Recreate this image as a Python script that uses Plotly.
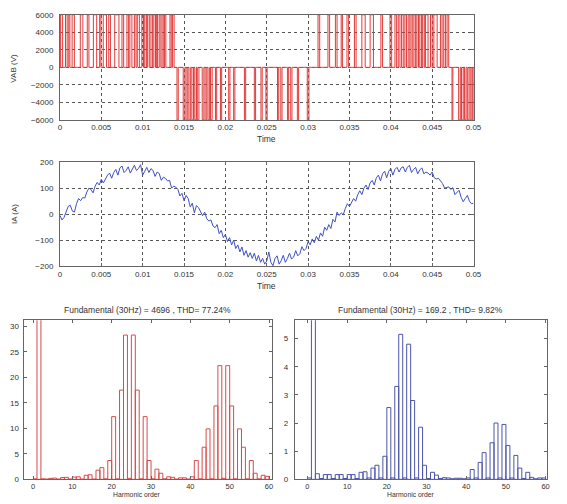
import plotly.graph_objects as go

# ---------------- data ----------------
# line voltage VAB: pulses (start ms, end ms) and level (V)
pulse_start_ms = [0.08, 0.67, 1.07, 1.47, 2.46, 3.30, 4.04, 4.80, 5.23, 5.90, 6.62, 7.50, 8.10, 8.45, 9.00, 9.35,
                  9.90, 10.25, 10.60, 11.00, 11.35, 11.65, 12.00, 12.35, 12.65, 13.30, 13.60,
                  14.15, 14.90, 15.25, 15.60, 15.95, 16.30, 16.60, 17.20, 17.55, 17.90, 18.20, 18.80, 19.40,
                  20.40, 21.00, 22.30, 23.50, 24.30, 24.90, 26.30, 26.70, 27.50, 27.90, 28.70, 29.90,
                  31.20, 32.40, 33.30, 34.00, 34.70, 35.60, 36.50, 37.50, 38.80, 39.90, 40.50, 40.90, 41.30,
                  41.70, 42.10, 42.45, 42.80, 43.15, 43.50, 43.85, 44.20, 44.80, 45.20, 46.00, 46.40, 46.80,
                  47.40, 48.20, 48.55, 48.90, 49.25, 49.60, 49.90]
pulse_end_ms = [0.32, 0.87, 1.20, 1.74, 2.77, 3.50, 4.44, 4.95, 5.63, 6.10, 7.13, 7.70, 8.30, 8.70, 9.20, 9.60,
                10.10, 10.45, 10.80, 11.20, 11.55, 11.80, 12.20, 12.55, 12.80, 13.45, 13.80,
                14.30, 15.10, 15.45, 15.80, 16.15, 16.50, 16.80, 17.40, 17.75, 18.10, 18.40, 18.95, 19.55,
                20.55, 21.15, 22.45, 23.65, 24.45, 25.05, 26.45, 26.85, 27.65, 28.05, 28.85, 30.10,
                31.40, 32.60, 33.50, 34.15, 34.90, 35.80, 36.90, 37.90, 39.00, 40.10, 40.70, 41.10, 41.50,
                41.90, 42.30, 42.65, 43.00, 43.35, 43.70, 44.05, 44.50, 45.00, 45.60, 46.20, 46.60, 47.00,
                47.50, 48.40, 48.75, 49.10, 49.45, 49.80, 50.00]
pulse_level = [6000] * 27 + [-6000] * 25 + [6000] * 26 + [-6000] * 7

# phase current IA, sampled every 0.25 ms
ia_dt = 0.00025
ia_values = [-5, -22, -12, 10, 30, 34, 12, 8, 40, 60, 52, 64, 62, 85, 100, 95, 82, 108, 122, 112,
             134, 120, 138, 150, 158, 138, 160, 172, 150, 178, 185, 160, 168, 182, 158, 175, 188, 168, 176, 190,
             150, 165, 180, 160, 175, 168, 145, 162, 156, 130, 142, 138, 128, 130, 100, 108, 104, 96, 70, 80,
             52, 72, 60, 28, 42, 5, 33, 25, 8, -6, 8, -18, -26, -22, -45, -52, -40, -75, -62, -90,
             -78, -105, -90, -118, -100, -132, -118, -145, -126, -158, -140, -165, -148, -170, -150, -180, -158, -185, -170, -192,
             -180, -145, -185, -198, -170, -160, -192, -178, -158, -185, -170, -150, -172, -165, -140, -160, -152, -125, -140, -132,
             -105, -118, -95, -110, -85, -100, -72, -85, -50, -62, -40, -55, -20, -30, 8, -5, 5, -2, 22, 40,
             30, 45, 60, 50, 75, 90, 75, 100, 112, 95, 120, 130, 112, 140, 150, 128, 155, 165, 140, 165,
             175, 150, 172, 180, 162, 178, 182, 162, 180, 188, 160, 172, 180, 155, 170, 178, 155, 162, 158, 150,
             162, 140, 135, 138, 130, 118, 100, 102, 105, 95, 102, 75, 85, 92, 65, 48, 60, 72, 50, 40, 42]

# harmonic spectra (% of fundamental), orders 0..59
harm_order = list(range(60))
vab_harm = [0.1, 100, 0.1, 0.05, 0.2, 0.25, 0.05, 0.35, 0.4, 0.05,
            0.45, 0.5, 0.05, 0.8, 0.9, 0.05, 1.8, 2.3, 0.1, 3.7,
            12.3, 0.1, 17.5, 28.3, 0.2, 28.3, 17.5, 0.1, 12.3, 3.7,
            0.1, 2.0, 1.2, 0.1, 0.5, 0.4, 0.05, 0.3, 0.3, 0.05,
            0.5, 3.7, 0.1, 6.3, 9.9, 0.1, 14.4, 22.3, 0.2, 22.3,
            14.4, 0.1, 9.9, 6.3, 0.1, 3.7, 1.2, 0.1, 0.8, 0.6]
ia_harm = [0.05, 100, 0.2, 0.03, 0.17, 0.17, 0.03, 0.17, 0.17, 0.03,
           0.17, 0.17, 0.03, 0.25, 0.27, 0.05, 0.4, 0.5, 0.05, 0.82,
           2.55, 0.05, 3.3, 5.15, 0.05, 4.8, 2.8, 0.05, 1.85, 0.5,
           0.03, 0.25, 0.15, 0.03, 0.06, 0.05, 0.02, 0.04, 0.04, 0.02,
           0.05, 0.35, 0.05, 0.6, 0.95, 0.05, 1.3, 2.0, 0.05, 1.95,
           1.2, 0.05, 0.85, 0.4, 0.03, 0.25, 0.07, 0.02, 0.05, 0.05]

time_ticks = [0, 0.005, 0.01, 0.015, 0.02, 0.025, 0.03, 0.035, 0.04, 0.045, 0.05]
time_tick_text = ["0", "0.005", "0.01", "0.015", "0.02", "0.025", "0.03", "0.035", "0.04", "0.045", "0.05"]
vab_ticks = [-6000, -4000, -2000, 0, 2000, 4000, 6000]
ia_ticks = [-200, -100, 0, 100, 200]
harm_x_ticks = [0, 10, 20, 30, 40, 50, 60]
vab_harm_yticks = [0, 5, 10, 15, 20, 25, 30]
ia_harm_yticks = [0, 1, 2, 3, 4, 5]

vab_title = "Fundamental (30Hz) = 4696 , THD= 77.24%"
ia_title = "Fundamental (30Hz) = 169.2 , THD= 9.82%"

# ---------------- build ----------------
W, H = 567, 504
FONT = "Liberation Sans, Arial, sans-serif"
TXT = "#333333"
AX = "#666666"

vx, vy = [0.0], [0]
for s, e, lv in zip(pulse_start_ms, pulse_end_ms, pulse_level):
    vx += [s / 1000.0, e / 1000.0]
    vy += [lv, 0]
vx.append(0.05)
vy.append(0)

fig = go.Figure()
fig.add_trace(go.Scatter(x=vx, y=vy, mode="lines", line=dict(color="#e23b3b", width=1, shape="hv"),
                         xaxis="x", yaxis="y", showlegend=False, hoverinfo="skip"))
fig.add_trace(go.Scatter(x0=0, dx=ia_dt, y=ia_values, mode="lines", line=dict(color="#3f4fc4", width=1),
                         xaxis="x2", yaxis="y2", showlegend=False, hoverinfo="skip"))
fig.add_trace(go.Bar(x=harm_order, y=vab_harm, offset=0, width=1,
                     marker=dict(color="rgba(255,255,255,0)", line=dict(color="#d94a4a", width=1)),
                     xaxis="x3", yaxis="y3", showlegend=False, hoverinfo="skip"))
fig.add_trace(go.Bar(x=harm_order, y=ia_harm, offset=0, width=1,
                     marker=dict(color="rgba(255,255,255,0)", line=dict(color="#4d55aa", width=1)),
                     xaxis="x4", yaxis="y4", showlegend=False, hoverinfo="skip"))


def px_x(a, b):
    return [a / W, b / W]


def px_y(top, bot):
    return [1 - bot / H, 1 - top / H]


common = dict(showline=True, linecolor=AX, linewidth=1, mirror="allticks", ticks="inside",
              ticklen=3, tickcolor=AX, tickfont=dict(family=FONT, size=8, color=TXT),
              zeroline=False, fixedrange=True)
grid = dict(showgrid=True, gridcolor="#555555", griddash="dot", gridwidth=1)
small = dict(family=FONT, size=7.5, color=TXT)

fig.update_layout(
    width=W, height=H, margin=dict(l=0, r=0, t=0, b=0),
    paper_bgcolor="white", plot_bgcolor="white", bargap=0, hovermode=False,
    font=dict(family=FONT, size=8, color=TXT),
    xaxis=dict(domain=px_x(59, 480), range=[0, 0.05], tickvals=time_ticks, ticktext=time_tick_text,
               anchor="y", layer="below traces", **common, **grid),
    yaxis=dict(domain=px_y(11, 118), range=[-6000, 6000], tickvals=vab_ticks, anchor="x",
               ticklabelstandoff=4, layer="below traces", **common, **grid),
    xaxis2=dict(domain=px_x(59, 480), range=[0, 0.05], tickvals=time_ticks, ticktext=time_tick_text,
                anchor="y2", **common, **grid),
    yaxis2=dict(domain=px_y(161, 267), range=[-200, 200], tickvals=ia_ticks, anchor="x2",
                ticklabelstandoff=4, **common, **grid),
    xaxis3=dict(domain=px_x(22, 275), range=[-2.4, 60.8], tickvals=harm_x_ticks, anchor="y3",
                showgrid=False, **common),
    yaxis3=dict(domain=px_y(322, 484), range=[0, 31.2], tickvals=vab_harm_yticks, anchor="x3",
                showgrid=False, ticklabelstandoff=2, **common),
    xaxis4=dict(domain=px_x(298, 555), range=[-3.2, 60.4], tickvals=harm_x_ticks, anchor="y4",
                showgrid=False, **common),
    yaxis4=dict(domain=px_y(322, 484), range=[0, 5.65], tickvals=ia_harm_yticks, anchor="x4",
                showgrid=False, ticklabelstandoff=4, **common),
)
fig.update_xaxes(tickfont=small, selector=dict(anchor="y3"))
fig.update_xaxes(tickfont=small, selector=dict(anchor="y4"))


def note(text, x, y, size=8, angle=0):
    fig.add_annotation(text=text, x=x / W, y=1 - y / H, xref="paper", yref="paper", showarrow=False,
                       xanchor="center", yanchor="middle", textangle=angle,
                       font=dict(family=FONT, size=size, color=TXT))


note("VAB (V)", 12, 65, 8, -90)
note("Time", 269.5, 137, 8.5)
note("IA (A)", 12, 214, 8, -90)
note("Time", 269.5, 287, 8.5)
note(vab_title, 148, 312, 8.5)
note(ia_title, 426, 312, 8.5)
note("Harmonic order", 137, 499.5, 6.8)
note("Harmonic order", 416, 499.5, 6.8)

fig.write_html("out.html", config={"displayModeBar": False, "staticPlot": True},
               post_script="document.body.style.margin='0';document.body.style.overflow='hidden';")
